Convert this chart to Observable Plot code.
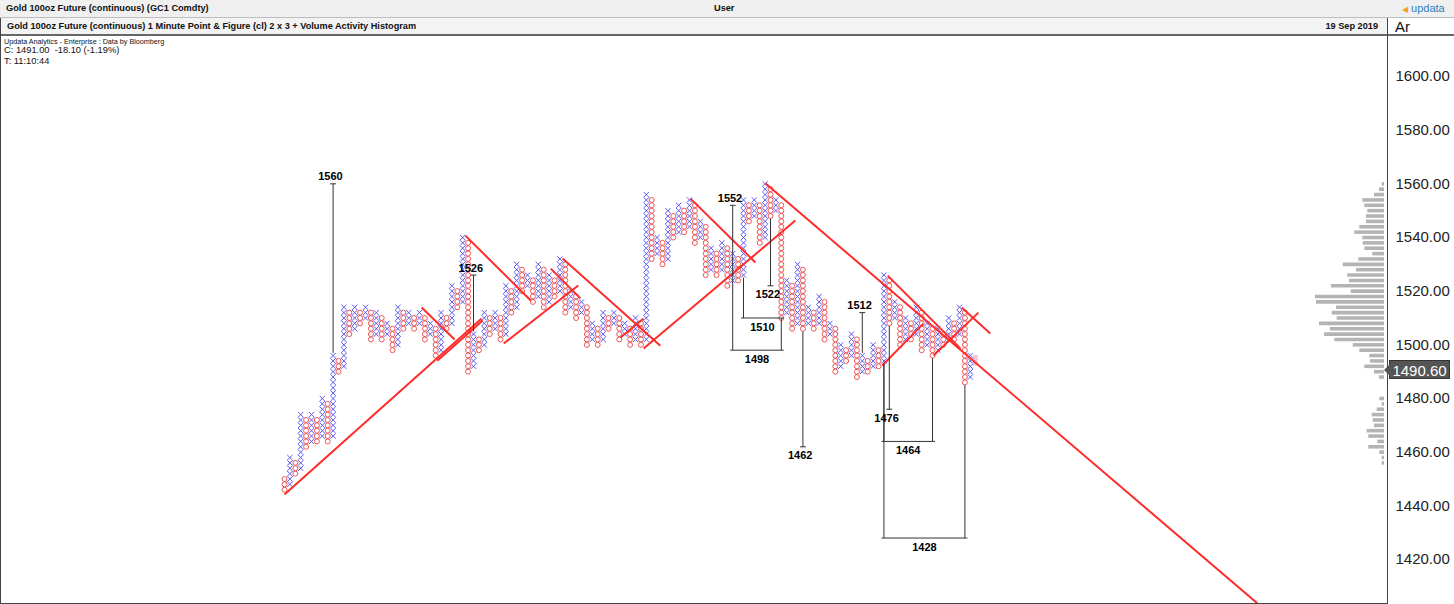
<!DOCTYPE html>
<html><head><meta charset="utf-8">
<script src="https://cdn.jsdelivr.net/npm/d3@7"></script>
<script src="https://cdn.jsdelivr.net/npm/@observablehq/plot@0.6"></script>
<style>
body{margin:0;background:#fff;}
#page{position:relative;width:1454px;height:604px;overflow:hidden;font-family:"Liberation Sans",Arial,sans-serif;background:#fff;}
.bar{position:absolute;left:0;width:1454px;height:17px;line-height:17px;color:#111;font-weight:bold;font-size:9.2px;white-space:nowrap;}
#bar1{top:0;background:#f0f0f0;border-bottom:1px solid #bdbdbd;}
#bar2{top:18px;background:#f3f3f3;border-bottom:2px solid #666;height:16px;}
#axhead{position:absolute;left:1388px;top:18px;width:66px;height:16px;background:#fff;font-size:15px;font-weight:normal;line-height:18px;padding-left:7px;box-sizing:border-box;color:#111;}
#vsep{position:absolute;left:1387px;top:18px;width:1px;height:586px;background:#444;}
#lsep{position:absolute;left:0;top:18px;width:1px;height:586px;background:#444;}
#bsep{position:absolute;left:0;top:603px;width:1388px;height:1px;background:#444;}
.info{position:absolute;left:4px;color:#111;white-space:nowrap;}
#chart,#hist{position:absolute;left:0;top:36px;}
#tag{position:absolute;left:1389px;width:61px;height:19px;background:#555;border:1px solid #333;color:#fff;font-size:15px;line-height:19px;text-align:center;box-sizing:border-box;}
#tag:before{content:"";position:absolute;left:-6px;top:3px;border-top:6px solid transparent;border-bottom:6px solid transparent;border-right:6px solid #555;}
</style></head><body>
<div id="page">
  <div id="hist"></div>
  <div id="chart"></div>
  <div class="bar" id="bar1"><span style="position:absolute;left:6px;">Gold 100oz Future (continuous) (GC1 Comdty)</span><span style="position:absolute;left:714px;">User</span><span style="position:absolute;left:1402px;top:0;font-weight:normal;font-size:11px;color:#2f7fc1;"><span style="color:#f0a020;font-size:8px;">&#9664;</span> updata</span></div>
  <div class="bar" id="bar2"><span style="position:absolute;left:7px;">Gold 100oz Future (continuous) 1 Minute Point &amp; Figure (cl) 2 x 3 + Volume Activity Histogram</span><span style="position:absolute;right:76px;">19 Sep 2019</span></div>
  <div id="axhead">Ar</div>
  <div id="vsep"></div><div id="lsep"></div><div id="bsep"></div>
  <div class="info" style="top:37px;font-size:7.2px;">Updata Analytics - Enterprise : Data by Bloomberg</div>
  <div class="info" style="top:45px;font-size:9.3px;">C: 1491.00&nbsp; -18.10 (-1.19%)</div>
  <div class="info" style="top:56px;font-size:9.3px;">T: 11:10:44</div>
  <div id="tag">1490.60</div>
</div>
<script>
// Point & Figure columns (box 2, reversal 3)
const colType = ["O","X","O","X","O","X","O","X","O","X","O","X","O","X","O","X","O","X","O","X","O","X","O","X","O","X","O","X","O","X","O","X","O","X","O","X","O","X","O","X","O","X","O","X","O","X","O","X","O","X","O","X","O","X","O","X","O","X","O","X","O","X","O","X","O","X","O","X","O","X","O","X","O","X","O","X","O","X","O","X","O","X","O","X","O","X","O","X","O","X","O","X","O","X","O","X","O","X","O","X","O","X","O","X","O","X","O","X","O","X","O","X","O","X","O","X","O","X","O","X","O","X","O","X","O","X","O","X"];
const colLow  = [1446,1448,1452,1454,1462,1464,1464,1466,1464,1466,1490,1492,1504,1506,1508,1510,1502,1504,1502,1504,1498,1500,1506,1508,1506,1508,1502,1504,1496,1498,1506,1508,1514,1516,1490,1492,1498,1500,1504,1506,1502,1504,1512,1514,1520,1522,1516,1518,1514,1516,1518,1520,1512,1514,1510,1512,1500,1502,1500,1502,1506,1508,1502,1504,1500,1502,1500,1502,1532,1534,1530,1532,1540,1542,1542,1544,1538,1540,1526,1528,1526,1528,1522,1524,1524,1526,1546,1548,1538,1540,1548,1550,1510,1512,1506,1508,1506,1508,1506,1508,1502,1504,1490,1492,1494,1496,1488,1490,1490,1492,1492,1494,1508,1510,1500,1502,1502,1504,1498,1500,1496,1498,1500,1502,1502,1504,1486,1488];
const colHigh = [1450,1458,1456,1474,1472,1474,1472,1480,1478,1496,1494,1514,1512,1514,1512,1514,1512,1512,1510,1508,1506,1514,1512,1512,1510,1512,1510,1508,1506,1512,1510,1522,1520,1540,1538,1504,1502,1512,1510,1512,1510,1522,1520,1530,1528,1526,1524,1530,1528,1526,1524,1532,1530,1520,1518,1516,1514,1508,1506,1512,1510,1512,1510,1508,1506,1510,1508,1556,1554,1540,1538,1550,1548,1552,1550,1554,1552,1546,1544,1536,1534,1538,1536,1534,1532,1554,1552,1554,1552,1560,1558,1554,1552,1524,1522,1530,1528,1514,1512,1518,1516,1508,1506,1500,1498,1504,1502,1496,1494,1500,1498,1526,1524,1516,1514,1510,1508,1514,1512,1508,1506,1506,1504,1510,1508,1514,1512,1496];
const pendingCol = 128, pendingLow = 1492, pendingHigh = 1496;

// Trend lines: [column, price] start and end
const trendCol1   = [0,     25.4,  28.3,  33.5,  40.6,  49.3,  51.5,  62.2,  66.5,  75.2,  89.1,  111.7, 110.7, 120.2, 125.4];
const trendPrice1 = [1444.2,1513.9,1494.1,1540.7,1500.5,1528.4,1532.2,1502.7,1498.6,1554.5,1560.1,1525.8,1492.3,1496.0,1513.9];
const trendCol2   = [36.5,  31.5,  36.7,  45.6,  54.4,  54.8,  69.6,  66.5,  94.6,  87.2,  180.2, 125.2, 118.3, 128.5, 130.7];
const trendPrice2 = [1509.8,1502.0,1509.1,1516.5,1522.1,1517.3,1499.7,1509.8,1546.3,1530.7,1403.6,1498.6,1507.9,1512.0,1504.2];

// Count targets
const countTarget    = [1560,1526,1552,1522,1462,1512,1476,1498,1510,1464,1428];
const countLeftCol   = [9,35,83,90,96,107,112,83,85,111,111];
const countLeftFrom  = [1497,1505,1498,1547,1505,1497,1507,1498,1525,1493,1493];
const countRightCol  = [null,null,null,null,null,null,null,92,92,120,126];
const countRightFrom = [null,null,null,null,null,null,null,1509,1509,1495,1485];

// Volume activity histogram
const histPrice = [1560,1558,1556,1554,1552,1550,1548,1546,1544,1542,1540,1538,1536,1534,1532,1530,1528,1526,1524,1522,1520,1518,1516,1514,1512,1510,1508,1506,1504,1502,1500,1498,1496,1494,1492,1490,1488,1480,1478,1476,1474,1472,1470,1468,1466,1464,1462,1460,1458,1456];
const histVol   = [2.3,5,10,21.7,19.7,16.7,18,18,24.7,29.7,21.7,21.3,19.7,11.7,25.7,41.3,28,36.7,35,53,33.3,69,68,48,52.3,47.3,65,54,60,49.7,31.3,24.7,14.7,14,19.7,10,5,4.7,2.3,7.3,12.3,11.3,10,17.3,15.7,6.7,15.7,4.7,2.3,2.3];

const yTicks = [1420,1440,1460,1480,1500,1520,1540,1560,1580,1600];
const lastPrice = 1490.60;

// build boxes
const cells = [];
colType.forEach((t, i) => { for (let p = colLow[i]; p <= colHigh[i]; p += 2) cells.push({i, p, t}); });
const xCells = cells.filter(d => d.t === "X"), oCells = cells.filter(d => d.t === "O");
const trends = trendCol1.map((c, k) => ({x1: c, y1: trendPrice1[k], x2: trendCol2[k], y2: trendPrice2[k]}));

const segs = [], labelsUp = [], labelsDown = [];
countTarget.forEach((t, k) => {
  const lc = countLeftCol[k], rc = countRightCol[k];
  if (countLeftFrom[k] !== t) segs.push({x1: lc, y1: countLeftFrom[k], x2: lc, y2: t});
  if (rc == null) {
    segs.push({x1: lc - 0.55, y1: t, x2: lc + 0.55, y2: t});
    (t > countLeftFrom[k] ? labelsUp : labelsDown).push({x: lc - 0.5, y: t, text: String(t)});
  } else {
    segs.push({x1: rc, y1: countRightFrom[k], x2: rc, y2: t});
    segs.push({x1: lc - 0.45, y1: t, x2: rc + 0.45, y2: t});
    labelsDown.push({x: (lc + rc) / 2, y: t, text: String(t)});
  }
});

const yScale = {domain: [1420, 1600], range: [523, 40]};
const main = Plot.plot({
  width: 1454, height: 568,
  marginLeft: 0, marginTop: 40, marginBottom: 45, marginRight: 67,
  x: {domain: [0, 127], range: [284, 284 + 5.4 * 127], axis: null},
  y: {...yScale, axis: "right", ticks: yTicks, tickFormat: d3.format(".2f"), tickSize: 0, tickPadding: 8, label: null},
  style: {background: "transparent", fontFamily: "Liberation Sans, Arial, sans-serif", fontSize: "15px", color: "#222", overflow: "visible"},
  marks: [
    Plot.rect([{c: pendingCol, lo: pendingLow, hi: pendingHigh}], {x1: d => d.c - 0.45, x2: d => d.c + 0.45, y1: "lo", y2: "hi", fill: "#f6c4c4"}),
    Plot.dot(oCells, {x: "i", y: "p", r: 2.5, stroke: "#f05555", strokeWidth: 1, fill: "none"}),
    Plot.dot(xCells, {x: "i", y: "p", symbol: "times", r: 2.5, stroke: "#5a5af2", strokeWidth: 1}),
    Plot.link(trends, {x1: "x1", y1: "y1", x2: "x2", y2: "y2", stroke: "#ff2b2b", strokeWidth: 2}),
    Plot.link(segs, {x1: "x1", y1: "y1", x2: "x2", y2: "y2", stroke: "#333", strokeWidth: 1}),
    Plot.text(labelsUp, {x: "x", y: "y", text: "text", dy: -7, fontSize: 11, fontWeight: "bold", fill: "#000"}),
    Plot.text(labelsDown, {x: "x", y: "y", text: "text", dy: 9, fontSize: 11, fontWeight: "bold", fill: "#000"})
  ]
});
document.getElementById("chart").appendChild(main);

const hist = Plot.plot({
  width: 1454, height: 568, margin: 0,
  x: {domain: [0, 70], range: [1384, 1314], axis: null},
  y: {...yScale, axis: null},
  style: {background: "transparent"},
  marks: [
    Plot.ruleY(histPrice.map((p, k) => ({p, v: histVol[k]})), {y: "p", x1: 0, x2: "v", stroke: "#b4b4b4", strokeWidth: 3.6})
  ]
});
document.getElementById("hist").appendChild(hist);

const ty = main.scale("y").apply(lastPrice);
document.getElementById("tag").style.top = (36 + ty - 9.5) + "px";
</script>
</body></html>
